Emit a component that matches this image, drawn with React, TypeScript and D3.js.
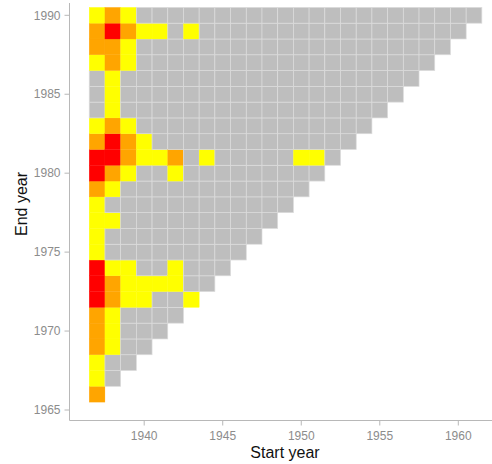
import React from "react";
import * as d3 from "d3";

const startYears = [1937,1938,1939,1940,1941,1942,1943,1944,1945,1946,1947,1948,1949,1950,1951,1952,1953,1954,1955,1956,1957,1958,1959,1960,1961];
const endYears = [1966,1967,1968,1969,1970,1971,1972,1973,1974,1975,1976,1977,1978,1979,1980,1981,1982,1983,1984,1985,1986,1987,1988,1989,1990];
const minSpan = 29;
const xTicks = [1940, 1945, 1950, 1955, 1960];
const yTicks = [1965, 1970, 1975, 1980, 1985, 1990];

// [start, end]
const yellowCells: [number, number][] = [
  [1937,1967],[1937,1968],[1937,1975],[1937,1976],[1937,1977],[1937,1978],[1937,1983],[1937,1987],[1937,1990],
  [1938,1969],[1938,1970],[1938,1971],[1938,1974],[1938,1977],[1938,1979],[1938,1984],[1938,1985],[1938,1986],
  [1939,1972],[1939,1973],[1939,1974],[1939,1980],[1939,1983],[1939,1987],[1939,1988],[1939,1990],
  [1940,1972],[1940,1973],[1940,1981],[1940,1982],[1940,1989],
  [1941,1973],[1941,1981],[1941,1989],
  [1942,1973],[1942,1974],[1942,1980],
  [1943,1972],[1943,1989],
  [1944,1981],
  [1950,1981],[1951,1981],
];
const orangeCells: [number, number][] = [
  [1937,1966],[1937,1969],[1937,1970],[1937,1971],[1937,1979],[1937,1982],[1937,1988],[1937,1989],
  [1938,1972],[1938,1973],[1938,1980],[1938,1983],[1938,1987],[1938,1988],[1938,1990],
  [1939,1981],[1939,1982],[1939,1989],
  [1942,1981],
];
const redCells: [number, number][] = [
  [1937,1972],[1937,1973],[1937,1974],[1937,1980],[1937,1981],
  [1938,1981],[1938,1982],[1938,1989],
];

const levelColors = ["#bebebe", "#ffff00", "#ffa500", "#ff0000"];

export default function App() {
  const W = 492, H = 464;
  const axisX = 69.5, axisY = 420.5, panelTop = 3;
  const x = d3.scaleLinear().domain([1940, 1960]).range([144.2, 458.3]);
  const y = d3.scaleLinear().domain([1965, 1990]).range([410, 15.3]);
  const cw = Math.abs(x(1) - x(0));
  const ch = Math.abs(y(1) - y(0));

  const level = new Map<string, number>();
  yellowCells.forEach(([s, e]) => level.set(`${s}-${e}`, 1));
  orangeCells.forEach(([s, e]) => level.set(`${s}-${e}`, 2));
  redCells.forEach(([s, e]) => level.set(`${s}-${e}`, 3));

  const cells: { s: number; e: number; l: number }[] = [];
  startYears.forEach((s) => {
    endYears.forEach((e) => {
      if (e - s >= minSpan) cells.push({ s, e, l: level.get(`${s}-${e}`) ?? 0 });
    });
  });

  const axisColor = "#b8b8b8";
  const tickText = "#8c8c8c";
  const font = "Liberation Sans, Arial, sans-serif";

  return (
    <svg width={W} height={H} style={{ position: "absolute", left: 0, top: 0, background: "#fff" }}>
      <rect x={0} y={0} width={W} height={H} fill="#fff" />
      <g>
        {cells.map((c) => (
          <rect
            key={`${c.s}-${c.e}`}
            x={x(c.s) - cw / 2}
            y={y(c.e) - ch / 2}
            width={cw}
            height={ch}
            fill={levelColors[c.l]}
            stroke={c.l === 0 ? "#dcdcdc" : levelColors[c.l]}
            strokeWidth={c.l === 0 ? 0.7 : 0.3}
          />
        ))}
      </g>
      {/* axes */}
      <line x1={axisX} x2={axisX} y1={panelTop} y2={axisY} stroke={axisColor} strokeWidth={1} />
      <line x1={axisX} x2={W} y1={axisY} y2={axisY} stroke={axisColor} strokeWidth={1} />
      {yTicks.map((t) => (
        <g key={t}>
          <line x1={axisX - 5} x2={axisX} y1={y(t)} y2={y(t)} stroke={axisColor} />
          <text x={axisX - 9} y={y(t)} dy="0.35em" textAnchor="end" fontFamily={font} fontSize={12} fill={tickText}>
            {t}
          </text>
        </g>
      ))}
      {xTicks.map((t) => (
        <g key={t}>
          <line x1={x(t)} x2={x(t)} y1={axisY} y2={axisY + 5} stroke={axisColor} />
          <text x={x(t)} y={axisY + 15} dy="0.35em" textAnchor="middle" fontFamily={font} fontSize={12} fill={tickText}>
            {t}
          </text>
        </g>
      ))}
      <text x={285} y={452} dy="0.35em" textAnchor="middle" fontFamily={font} fontSize={16} fill="#111">
        Start year
      </text>
      <text
        transform={`translate(21, 204) rotate(-90)`}
        textAnchor="middle"
        dy="0.35em"
        fontFamily={font}
        fontSize={16}
        fill="#111"
      >
        End year
      </text>
    </svg>
  );
}
